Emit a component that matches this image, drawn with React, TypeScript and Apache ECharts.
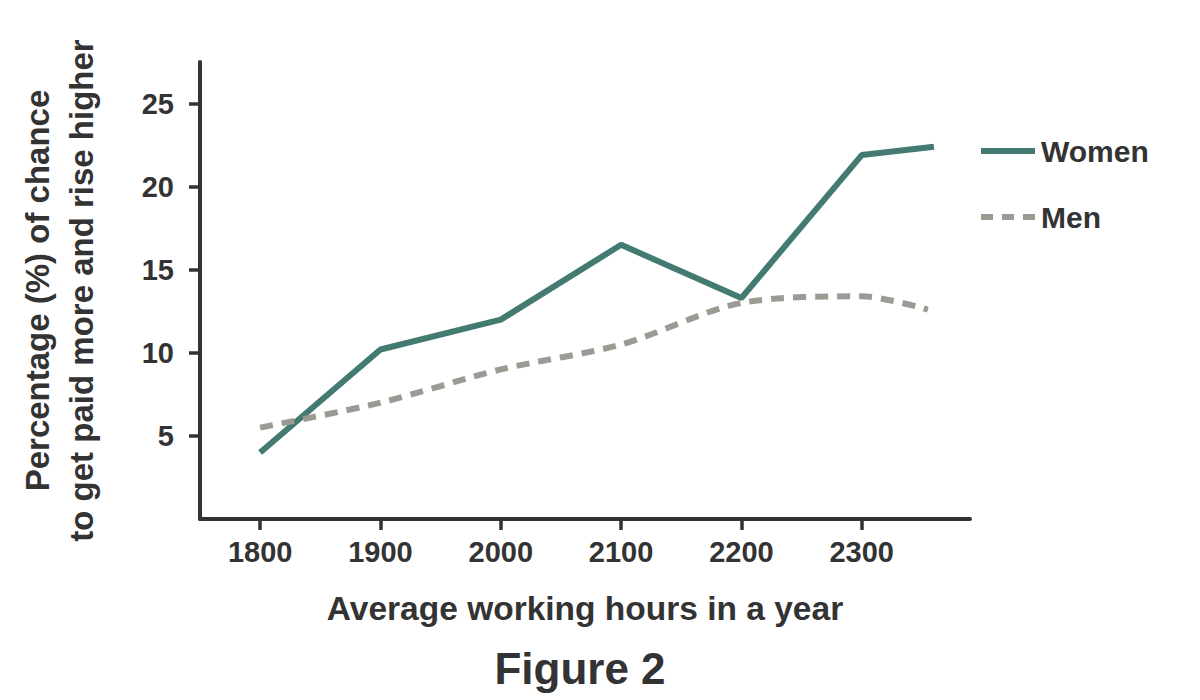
import React, { useEffect, useRef } from "react";
import * as echarts from "echarts";

const womenHours = [1800, 1900, 2000, 2100, 2200, 2300, 2360];
const womenValues = [4.0, 10.2, 12.0, 16.5, 13.3, 21.9, 22.4];
const menHours = [1800, 1900, 2000, 2100, 2200, 2300, 2355];
const menValues = [5.5, 7.0, 9.0, 10.5, 13.0, 13.4, 12.6];
const xTicks = [1800, 1900, 2000, 2100, 2200, 2300];
const yTicks = [5, 10, 15, 20, 25];

const FONT = "'Liberation Sans', Arial, Helvetica, sans-serif";
const TEXT = "#333333";
const AXIS = "#333333";
const WOMEN_COLOR = "#437a72";
const MEN_COLOR = "#9b9a93";

const SOLID_ICON = "path://M0,0h54v6h-54z";
const DASH_ICON = "path://M0,0h12v6h-12z M21,0h12v6h-12z M42,0h12v6h-12z";

export default function App() {
  const ref = useRef<HTMLDivElement>(null);
  useEffect(() => {
    if (!ref.current) return;
    const chart = echarts.init(ref.current, undefined, { renderer: "svg" });
    chart.setOption({
      animation: false,
      backgroundColor: "#ffffff",
      textStyle: { fontFamily: FONT },
      grid: { left: 200, right: 230, top: 62, bottom: 181, containLabel: false },
      legend: {
        orient: "vertical",
        left: 976,
        top: 131,
        itemWidth: 54,
        itemHeight: 6,
        itemGap: 36,
        textStyle: {
          fontFamily: FONT,
          fontSize: 30,
          fontWeight: "bold",
          color: TEXT,
          padding: [0, 0, 0, 1],
        },
        data: [
          { name: "Women", icon: SOLID_ICON, itemStyle: { color: WOMEN_COLOR } },
          { name: "Men", icon: DASH_ICON, itemStyle: { color: MEN_COLOR } },
        ],
      },
      xAxis: {
        type: "value",
        min: 1750,
        max: 2390,
        name: "Average working hours in a year",
        nameLocation: "middle",
        nameGap: 72,
        nameTextStyle: { fontFamily: FONT, fontSize: 33.5, fontWeight: "bold", color: TEXT },
        axisLine: { show: true, onZero: false, lineStyle: { color: AXIS, width: 4 } },
        axisTick: { show: true, length: 11, lineStyle: { color: AXIS, width: 3.5 }, customValues: xTicks },
        axisLabel: {
          fontFamily: FONT,
          fontSize: 29,
          fontWeight: "bold",
          color: TEXT,
          margin: 18,
          customValues: xTicks,
          formatter: (v: number) => String(v),
        },
        splitLine: { show: false },
      },
      yAxis: {
        type: "value",
        min: 0,
        max: 27.5,
        name: "Percentage (%) of chance\nto get paid more and rise higher",
        nameLocation: "middle",
        nameGap: 97,
        nameTextStyle: {
          fontFamily: FONT,
          fontSize: 33,
          fontWeight: "bold",
          color: TEXT,
          lineHeight: 44,
        },
        axisLine: { show: true, lineStyle: { color: AXIS, width: 4 } },
        axisTick: { show: true, length: 11, lineStyle: { color: AXIS, width: 3.5 }, customValues: yTicks },
        axisLabel: {
          fontFamily: FONT,
          fontSize: 29,
          fontWeight: "bold",
          color: TEXT,
          margin: 26,
          customValues: yTicks,
        },
        splitLine: { show: false },
      },
      graphic: [
        {
          type: "text",
          x: 580,
          y: 668,
          style: {
            text: "Figure 2",
            fontFamily: FONT,
            fontSize: 44,
            fontWeight: "bold",
            fill: TEXT,
            textAlign: "center",
            textVerticalAlign: "middle",
          },
        },
      ],
      series: [
        {
          name: "Women",
          type: "line",
          data: womenHours.map((h, i) => [h, womenValues[i]]),
          symbol: "none",
          lineStyle: { color: WOMEN_COLOR, width: 6 },
          itemStyle: { color: WOMEN_COLOR },
        },
        {
          name: "Men",
          type: "line",
          smooth: 0.3,
          data: menHours.map((h, i) => [h, menValues[i]]),
          symbol: "none",
          lineStyle: { color: MEN_COLOR, width: 6, type: [13, 9] },
          itemStyle: { color: MEN_COLOR },
        },
      ],
    });
    return () => chart.dispose();
  }, []);
  return (
    <div
      ref={ref}
      style={{ position: "fixed", left: 0, top: 0, width: 1200, height: 700, background: "#fff" }}
    />
  );
}
